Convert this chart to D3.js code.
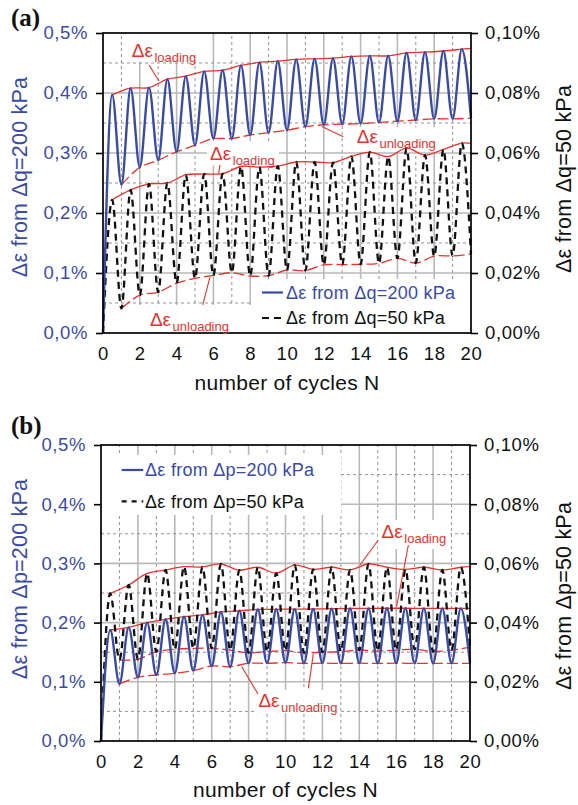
<!DOCTYPE html>
<html>
<head>
<meta charset="utf-8">
<script src="https://cdn.jsdelivr.net/npm/d3@7/dist/d3.min.js"></script>
<style>
  body { margin: 0; background: #fff; }
  svg { display: block; }
</style>
</head>
<body>
<svg id="fig" width="578" height="805"></svg>
<script>
// ---- axis ticks and labels ----
const cycleTicks = [0, 2, 4, 6, 8, 10, 12, 14, 16, 18, 20];
const leftTicks = [0, 0.1, 0.2, 0.3, 0.4, 0.5];
const leftTickLabels = ["0,0%", "0,1%", "0,2%", "0,3%", "0,4%", "0,5%"];
const rightTicks = [0, 0.02, 0.04, 0.06, 0.08, 0.10];
const rightTickLabels = ["0,00%", "0,02%", "0,04%", "0,06%", "0,08%", "0,10%"];
const gridCycles = [1, 2, 3, 4, 5, 6, 7, 8, 9, 10, 11, 12, 13, 14, 15, 16, 17, 18, 19];
const gridStrains = [0.05, 0.1, 0.15, 0.2, 0.25, 0.3, 0.35, 0.4, 0.45];

// ---- (a) deviatoric cycles: maxima at N = 0.5 … 19.5, minima at N = 1 … 20 (strain in %) ----
const q200Peaks = [0.397, 0.408, 0.409, 0.423, 0.428, 0.436, 0.438, 0.446, 0.451, 0.453,
                   0.456, 0.457, 0.458, 0.461, 0.462, 0.462, 0.467, 0.468, 0.470, 0.473];
const q200Troughs = [0.247, 0.276, 0.288, 0.302, 0.313, 0.324, 0.324, 0.330, 0.334, 0.338,
                     0.344, 0.347, 0.348, 0.349, 0.351, 0.353, 0.355, 0.357, 0.357, 0.358];
const q50Peaks = [0.0444, 0.0477, 0.0497, 0.0500, 0.0527, 0.0530, 0.0531, 0.0555, 0.0553, 0.0556,
                  0.0570, 0.0570, 0.0568, 0.0589, 0.0603, 0.0588, 0.0616, 0.0593, 0.0612, 0.0633];
const q50Troughs = [0.0082, 0.0126, 0.0136, 0.0166, 0.0182, 0.0192, 0.0201, 0.0190, 0.0191, 0.0210,
                    0.0208, 0.0227, 0.0228, 0.0229, 0.0232, 0.0249, 0.0233, 0.0256, 0.0257, 0.0263];
const q200LoadingEnd = 0.4745;   // loading envelope at N = 20
const q50LoadingEnd = 0.0632;

// ---- (b) isotropic cycles ----
const p200Peaks = [0.1875, 0.192, 0.200, 0.2056, 0.210, 0.213, 0.218, 0.220, 0.2222, 0.2225,
                   0.2228, 0.223, 0.2235, 0.2238, 0.224, 0.2242, 0.2242, 0.224, 0.224, 0.224];
const p200Troughs = [0.0963, 0.1076, 0.1115, 0.1144, 0.1188, 0.1267, 0.1255, 0.1312, 0.1312, 0.1323,
                     0.131, 0.1315, 0.131, 0.1315, 0.131, 0.1315, 0.131, 0.131, 0.131, 0.131];
const p50Peaks = [0.0499, 0.0527, 0.0566, 0.0578, 0.0589, 0.0588, 0.0598, 0.0577, 0.0587, 0.0567,
                  0.0594, 0.0580, 0.0587, 0.0578, 0.0598, 0.0587, 0.0580, 0.0587, 0.0578, 0.0587];
const p50Troughs = [0.0274, 0.0276, 0.0302, 0.0310, 0.0313, 0.0313, 0.0307, 0.0298, 0.0302, 0.0305,
                    0.0298, 0.0300, 0.0302, 0.0307, 0.0304, 0.0307, 0.0310, 0.0302, 0.0307, 0.0317];
const p200LoadingEnd = 0.224;
const p50LoadingEnd = 0.0589;

// ---- styling ----
const FONT = '"Liberation Sans", Arial, Helvetica, sans-serif';
const BLUE = "#3a4ba6";
const RED = "#e8322c";
const GRID_SOLID = "#b9b9b9";
const GRID_DASH = "#939393";

const svg = d3.select("#fig");
svg.append("rect").attr("width", 578).attr("height", 805).attr("fill", "#fff");

// full strain path: start at zero, then alternate maxima / minima
function waveform(peaks, troughs) {
  const pts = [[0, 0]];
  peaks.forEach((p, i) => { pts.push([i + 0.5, p]); pts.push([i + 1, troughs[i]]); });
  return pts;
}
function loadingEnvelope(peaks, endValue) {
  return peaks.map((p, i) => [i + 0.5, p]).concat([[20, endValue]]);
}
function unloadingEnvelope(troughs) {
  return troughs.map((t, i) => [i + 1, t]);
}

function drawPanel(cfg) {
  const g = svg.append("g");
  const x = d3.scaleLinear().domain([0, 20]).range([cfg.left, cfg.left + cfg.width]);
  const yL = d3.scaleLinear().domain([0, 0.5]).range([cfg.top + cfg.height, cfg.top]);
  const yR = d3.scaleLinear().domain([0, 0.1]).range([cfg.top + cfg.height, cfg.top]);

  // grid
  const grid = g.append("g");
  grid.selectAll(".gv").data(gridCycles).join("line")
    .attr("x1", d => x(d)).attr("x2", d => x(d))
    .attr("y1", yL(0)).attr("y2", yL(0.5))
    .attr("stroke", d => d % 2 === 0 ? GRID_SOLID : GRID_DASH)
    .attr("stroke-width", d => d % 2 === 0 ? 1.6 : 1)
    .attr("stroke-dasharray", d => d % 2 === 0 ? null : "3,3");
  grid.selectAll(".gh").data(gridStrains).join("line")
    .attr("x1", x(0)).attr("x2", x(20))
    .attr("y1", d => yL(d)).attr("y2", d => yL(d))
    .attr("stroke", (d, i) => i % 2 === 1 ? GRID_SOLID : GRID_DASH)
    .attr("stroke-width", (d, i) => i % 2 === 1 ? 1.6 : 1)
    .attr("stroke-dasharray", (d, i) => i % 2 === 1 ? null : "3,3");

  // white backing behind labels and legend
  g.append("g").selectAll("rect").data(cfg.boxes).join("rect")
    .attr("x", d => x(d[0])).attr("width", d => x(d[1]) - x(d[0]))
    .attr("y", d => yL(d[2])).attr("height", d => yL(d[3]) - yL(d[2]))
    .attr("fill", "#fff");

  const lineL = d3.line().x(d => x(d[0])).y(d => yL(d[1])).curve(d3.curveMonotoneX);
  const lineR = d3.line().x(d => x(d[0])).y(d => yR(d[1])).curve(d3.curveMonotoneX);
  const envL = d3.line().x(d => x(d[0])).y(d => yL(d[1])).curve(d3.curveCatmullRom.alpha(0.5));
  const envR = d3.line().x(d => x(d[0])).y(d => yR(d[1])).curve(d3.curveCatmullRom.alpha(0.5));

  // envelopes
  const env = g.append("g").attr("fill", "none").attr("stroke", RED).attr("stroke-width", 1.3);
  env.append("path").attr("d", envL(loadingEnvelope(cfg.bigPeaks, cfg.bigEnd)));
  env.append("path").attr("d", envL(unloadingEnvelope(cfg.bigTroughs))).attr("stroke-dasharray", "11,4");
  env.append("path").attr("d", envR(loadingEnvelope(cfg.smallPeaks, cfg.smallEnd)));
  env.append("path").attr("d", envR(unloadingEnvelope(cfg.smallTroughs))).attr("stroke-dasharray", "11,4");

  // strain paths
  g.append("path")
    .attr("d", lineR(waveform(cfg.smallPeaks, cfg.smallTroughs)))
    .attr("fill", "none").attr("stroke", "#111").attr("stroke-width", 2.3)
    .attr("stroke-dasharray", "7,5");
  g.append("path")
    .attr("d", lineL(waveform(cfg.bigPeaks, cfg.bigTroughs)))
    .attr("fill", "none").attr("stroke", BLUE).attr("stroke-width", 2.4);

  // axes
  const axL = g.append("g").attr("transform", `translate(${cfg.left},0)`)
    .call(d3.axisLeft(yL).tickValues(leftTicks).tickFormat((d, i) => leftTickLabels[i])
      .tickSize(7).tickPadding(cfg.leftPad));
  const axR = g.append("g").attr("transform", `translate(${cfg.left + cfg.width},0)`)
    .call(d3.axisRight(yR).tickValues(rightTicks).tickFormat((d, i) => rightTickLabels[i])
      .tickSize(7).tickPadding(7));
  const axB = g.append("g").attr("transform", `translate(0,${cfg.top + cfg.height})`)
    .call(d3.axisBottom(x).tickValues(cycleTicks).tickFormat(d => d).tickSize(0).tickPadding(13.5));
  [axL, axR, axB].forEach(a => {
    a.select(".domain").remove();
    a.attr("font-family", FONT).attr("font-size", 18.5);
    a.selectAll("line").attr("stroke", "#000").attr("stroke-width", 1.6);
    a.selectAll("text").attr("letter-spacing", 0.6);
  });
  axL.selectAll("text").attr("fill", BLUE);
  axR.selectAll("text").attr("fill", "#111");
  axB.selectAll("text").attr("fill", "#111");

  g.append("rect").attr("x", cfg.left).attr("y", cfg.top)
    .attr("width", cfg.width).attr("height", cfg.height)
    .attr("fill", "none").attr("stroke", "#000").attr("stroke-width", 1.7);

  // axis titles
  g.append("text").attr("x", x(10)).attr("y", cfg.top + cfg.height + cfg.xTitleGap)
    .attr("text-anchor", "middle").attr("font-family", FONT).attr("font-size", 21)
    .attr("letter-spacing", 0.3).attr("fill", "#111").text("number of cycles N");
  g.append("text")
    .attr("transform", `translate(${cfg.leftTitleX},${cfg.leftTitleY}) rotate(-90)`)
    .attr("text-anchor", "middle").attr("font-family", FONT).attr("font-size", 21.5)
    .attr("letter-spacing", 0.2).attr("fill", BLUE).text(cfg.leftTitle);
  g.append("text")
    .attr("transform", `translate(${cfg.rightTitleX},${cfg.rightTitleY}) rotate(-90)`)
    .attr("text-anchor", "middle").attr("font-family", FONT).attr("font-size", 21.5)
    .attr("letter-spacing", 0.2).attr("fill", "#111").text(cfg.rightTitle);

  // panel letter
  g.append("text").attr("x", 11).attr("y", cfg.letterY)
    .attr("font-family", '"Liberation Serif", "Times New Roman", serif')
    .attr("font-weight", "bold").attr("font-size", 25).attr("fill", "#111").text(cfg.letter);

  // legend
  const lg = g.append("g").attr("font-family", FONT).attr("font-size", 18);
  cfg.legend.forEach(r => {
    lg.append("line").attr("x1", x(r.n0)).attr("x2", x(r.n1))
      .attr("y1", yL(r.v)).attr("y2", yL(r.v))
      .attr("stroke", r.color).attr("stroke-width", 2.2)
      .attr("stroke-dasharray", r.dash);
    lg.append("text").attr("x", x(r.tn)).attr("y", yL(r.v)).attr("dy", "0.36em")
      .attr("letter-spacing", 0.25).attr("fill", r.color).text(r.text);
  });

  // Δε annotations with leader lines
  const an = g.append("g").attr("font-family", FONT).attr("fill", RED);
  cfg.notes.forEach(a => {
    const t = an.append("text").attr("x", x(a.n)).attr("y", yL(a.v)).attr("font-size", 19);
    t.append("tspan").text("Δε");
    t.append("tspan").attr("dx", 1.5).attr("dy", 5).attr("font-size", 13).text(a.sub);
  });
  g.append("g").selectAll("line").data(cfg.leaders).join("line")
    .attr("x1", d => x(d[0])).attr("y1", d => yL(d[1]))
    .attr("x2", d => x(d[2])).attr("y2", d => yL(d[3]))
    .attr("stroke", RED).attr("stroke-width", 1.1);
}

drawPanel({
  letter: "(a)", letterY: 26,
  left: 103, top: 33, width: 368, height: 300,
  leftPad: 8, xTitleGap: 57,
  leftTitle: "Δε from Δq=200 kPa", leftTitleX: 27, leftTitleY: 177,
  rightTitle: "Δε from Δq=50 kPa", rightTitleX: 571, rightTitleY: 179,
  bigPeaks: q200Peaks, bigTroughs: q200Troughs, bigEnd: q200LoadingEnd,
  smallPeaks: q50Peaks, smallTroughs: q50Troughs, smallEnd: q50LoadingEnd,
  boxes: [[1.36, 5.54, 0.5, 0.452], [5.65, 9.56, 0.32, 0.279], [13.53, 18.3, 0.343, 0.302],
          [8.04, 20, 0.09, 0], [0.82, 8.04, 0.0467, 0]],
  legend: [
    { n0: 8.64, n1: 9.78, tn: 9.95, v: 0.0675, color: BLUE, dash: null, text: "Δε from Δq=200 kPa" },
    { n0: 8.64, n1: 9.78, tn: 9.95, v: 0.025, color: "#111", dash: "7,5", text: "Δε from Δq=50 kPa" }
  ],
  notes: [
    { n: 1.56, v: 0.4605, sub: "loading" },
    { n: 5.82, v: 0.2883, sub: "loading" },
    { n: 13.79, v: 0.3162, sub: "unloading" },
    { n: 2.55, v: 0.0117, sub: "unloading" }
  ],
  leaders: [[2.5, 0.4467, 3.04, 0.42], [6.36, 0.28, 6.28, 0.265],
            [13.06, 0.3272, 11.89, 0.344], [5.42, 0.0467, 5.82, 0.0938]]
});

drawPanel({
  letter: "(b)", letterY: 434,
  left: 101, top: 445, width: 369, height: 296,
  leftPad: 8, xTitleGap: 56,
  leftTitle: "Δε from Δp=200 kPa", leftTitleX: 27, leftTitleY: 579,
  rightTitle: "Δε from Δp=50 kPa", rightTitleX: 571, rightTitleY: 596,
  bigPeaks: p200Peaks, bigTroughs: p200Troughs, bigEnd: p200LoadingEnd,
  smallPeaks: p50Peaks, smallTroughs: p50Troughs, smallEnd: p50LoadingEnd,
  boxes: [[0, 13.01, 0.483, 0.382], [15.01, 18.92, 0.3733, 0.3243], [8.35, 12.9, 0.0861, 0.0473]],
  legend: [
    { n0: 1.12, n1: 2.29, tn: 2.39, v: 0.4578, color: BLUE, dash: null, text: "Δε from Δp=200 kPa" },
    { n0: 1.12, n1: 2.29, tn: 2.39, v: 0.4049, color: "#111", dash: "5,5", text: "Δε from Δp=50 kPa" }
  ],
  notes: [
    { n: 15.21, v: 0.3429, sub: "loading" },
    { n: 8.53, v: 0.0579, sub: "unloading" }
  ],
  leaders: [[15.03, 0.3395, 14.04, 0.2973], [16.66, 0.3311, 16.02, 0.2269],
            [7.62, 0.1258, 8.51, 0.0794], [11.24, 0.089, 11.51, 0.1481]]
});
</script>
</body>
</html>
